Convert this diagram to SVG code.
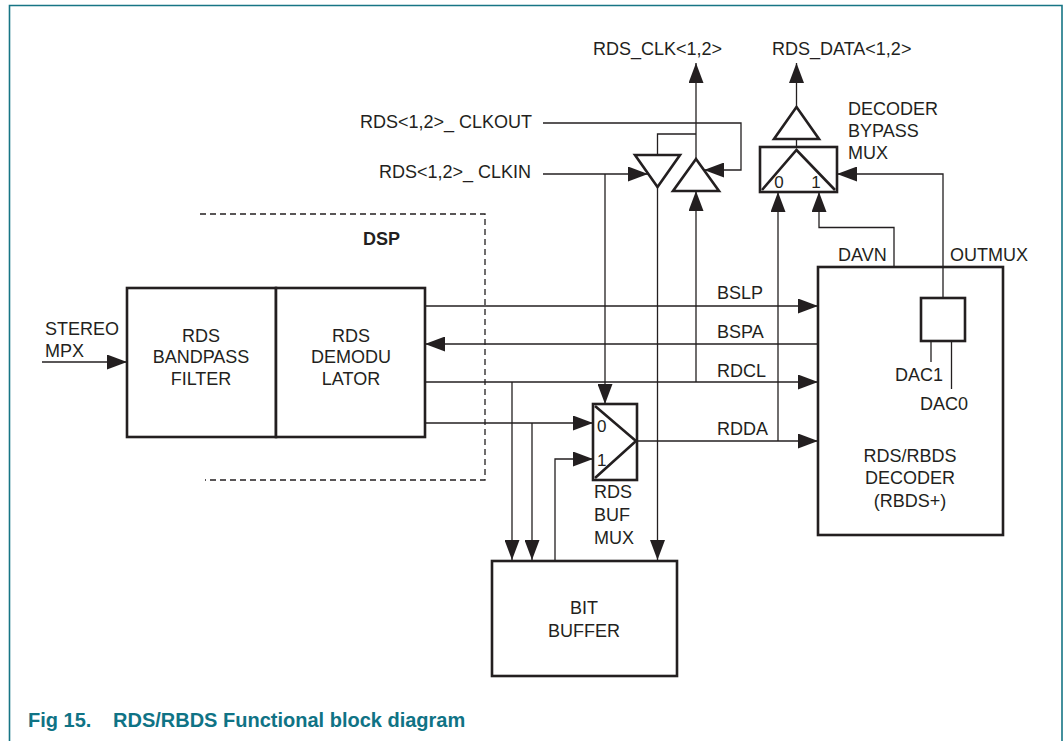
<svg xmlns="http://www.w3.org/2000/svg" width="1064" height="741" viewBox="0 0 1064 741">
<defs>
<marker id="ah" markerWidth="20" markerHeight="15" refX="20" refY="7.5" orient="auto" markerUnits="userSpaceOnUse">
<path d="M0,0 L20,7.5 L0,15 z" fill="#231f20"/>
</marker>
<style>
.t{font-family:"Liberation Sans",Arial,sans-serif;font-size:18px;fill:#231f20}
.m{text-anchor:middle}
.b{font-weight:bold}
.box{fill:#fff;stroke:#231f20;stroke-width:2.6}
.shp{fill:none;stroke:#231f20;stroke-width:2.6;stroke-linejoin:miter}
.ln{fill:none;stroke:#231f20;stroke-width:1.3}
.ar{marker-end:url(#ah)}
.frame{fill:none;stroke:#177585;stroke-width:1.6}
.cap{font-family:"Liberation Sans",Arial,sans-serif;font-size:20px;font-weight:bold;fill:#0f7385}
</style>
</defs>
<rect width="1064" height="741" fill="#fff"/>
<path class="frame" d="M9.5,745 V5.5 H1062 V745"/>

<g id="dsp">
<path d="M200,214 H485 V480 H205" fill="none" stroke="#231f20" stroke-width="1.3" stroke-dasharray="6,4"/>
<text class="t b" x="363" y="245">DSP</text>
</g>

<g id="input">
<text class="t" x="45" y="335">STEREO</text>
<text class="t" x="45" y="357">MPX</text>
</g>

<g id="bandpass">
<rect class="box" x="127" y="288" width="149" height="149"/>
<text class="t m" x="201" y="342">RDS</text>
<text class="t m" x="201" y="363">BANDPASS</text>
<text class="t m" x="201" y="385">FILTER</text>
</g>

<g id="demodulator">
<rect class="box" x="276" y="288" width="149" height="149"/>
<text class="t m" x="351" y="342">RDS</text>
<text class="t m" x="351" y="363">DEMODU</text>
<text class="t m" x="351" y="385">LATOR</text>
</g>

<g id="labels">
<text class="t" x="717" y="299">BSLP</text>
<text class="t" x="717" y="338">BSPA</text>
<text class="t" x="717" y="377">RDCL</text>
<text class="t" x="717" y="435">RDDA</text>
<text class="t" x="593" y="55">RDS_CLK&lt;1,2&gt;</text>
<text class="t" x="772" y="55">RDS_DATA&lt;1,2&gt;</text>
<text class="t" x="360" y="128">RDS&lt;1,2&gt;_ CLKOUT</text>
<text class="t" x="379" y="178">RDS&lt;1,2&gt;_ CLKIN</text>
</g>

<g id="rds-buf-mux">
<rect class="box" x="593" y="404" width="44" height="76"/>
<path class="shp" d="M595,406 L636,441 L595,478"/>
<text class="t" x="597" y="432" style="font-size:17px">0</text>
<text class="t" x="597" y="466" style="font-size:17px">1</text>
<text class="t" x="594" y="498">RDS</text>
<text class="t" x="594" y="521">BUF</text>
<text class="t" x="594" y="544">MUX</text>
</g>

<g id="clkin-buffer">
<path class="shp" d="M635,155 L680,155 L657.5,187 z"/>
</g>

<g id="clkout-buffer">
<path class="shp" d="M696,159 L719,191 L673,191 z"/>
</g>

<g id="data-buffer">
<path class="shp" d="M796.5,107 L819,139 L774,139 z"/>
</g>

<g id="decoder-bypass-mux">
<rect class="box" x="760" y="147" width="77" height="45"/>
<path class="shp" d="M762,190 L796.5,150 L835,190"/>
<text class="t m" x="779" y="188" style="font-size:17px">0</text>
<text class="t m" x="816" y="188" style="font-size:17px">1</text>
<text class="t" x="848" y="115">DECODER</text>
<text class="t" x="848" y="137">BYPASS</text>
<text class="t" x="848" y="159">MUX</text>
</g>

<g id="decoder">
<rect class="box" x="818" y="267" width="185" height="268"/>
<text class="t" x="838" y="261">DAVN</text>
<text class="t" x="950" y="261">OUTMUX</text>
<text class="t m" x="910" y="462">RDS/RBDS</text>
<text class="t m" x="910" y="484">DECODER</text>
<text class="t m" x="910" y="507">(RBDS+)</text>
</g>

<g id="outmux-reg">
<rect class="box" x="921" y="298" width="44" height="43"/>
<text class="t" x="895" y="381">DAC1</text>
<text class="t" x="920" y="410">DAC0</text>
</g>

<g id="bit-buffer">
<rect class="box" x="492" y="561" width="185" height="115"/>
<text class="t m" x="584" y="614">BIT</text>
<text class="t m" x="584" y="637">BUFFER</text>
</g>

<g id="connectors">
<path class="ln ar" d="M42,362 H127"/>
<path class="ln ar" d="M425,306 H818"/>
<path class="ln ar" d="M818,344 H425"/>
<path class="ln ar" d="M425,382 H818"/>
<path class="ln ar" d="M425,423 H593"/>
<path class="ln ar" d="M637,441 H818"/>
<path class="ln ar" d="M512,382 V560"/>
<path class="ln ar" d="M532,423 V560"/>
<path class="ln ar" d="M555,561 V459 H593"/>
<path class="ln ar" d="M543,174 H648"/>
<path class="ln ar" d="M605,174 V404"/>
<path class="ln ar" d="M657.5,187 V560"/>
<path class="ln" d="M657.5,155 V134 H696"/>
<path class="ln ar" d="M696,159 V63"/>
<path class="ln ar" d="M696,382 V191"/>
<path class="ln ar" d="M543,123 H741 V170 H704"/>
<path class="ln ar" d="M796.5,107 V63"/>
<path class="ln" d="M796.5,139 V147"/>
<path class="ln ar" d="M778,441 V192"/>
<path class="ln ar" d="M894,267 V227.5 H819 V192"/>
<path class="ln ar" d="M943,298 V174 H837"/>
<path class="ln" d="M931,341 V362"/>
<path class="ln" d="M951.5,341 V389"/>
</g>

<g id="caption">
<text class="cap" x="28" y="727">Fig 15.<tspan x="113">RDS/RBDS Functional block diagram</tspan></text>
</g>
</svg>
